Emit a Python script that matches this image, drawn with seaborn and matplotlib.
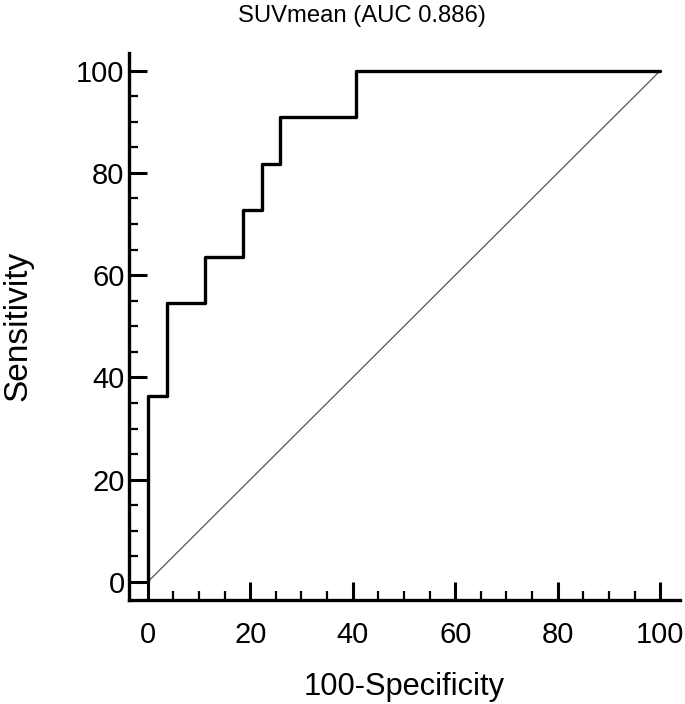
import matplotlib
matplotlib.use('Agg')
import matplotlib.pyplot as plt
import seaborn as sns
from matplotlib.ticker import AutoMinorLocator

# ROC points for SUVmean
fpr = [0, 0, 3.7, 11.1, 18.5, 22.2, 25.9, 40.7, 100]
tpr = [0, 36.4, 54.5, 63.6, 72.7, 81.8, 90.9, 100, 100]
diag = [0, 100]
title = 'SUVmean (AUC 0.886)'

sns.set_style('ticks')
plt.rcParams['font.family'] = ['Liberation Sans', 'DejaVu Sans']
plt.rcParams['text.color'] = 'black'
plt.rcParams['axes.labelcolor'] = 'black'
plt.rcParams['xtick.color'] = 'black'
plt.rcParams['ytick.color'] = 'black'

fig = plt.figure(figsize=(6.85, 7.04), dpi=100)
ax = fig.add_axes([0.188, 0.148, 0.805, 0.777])

sns.lineplot(x=diag, y=diag, ax=ax, color='#555555', linewidth=0.9)
sns.lineplot(x=fpr, y=tpr, ax=ax, color='black', linewidth=2.4,
             drawstyle='steps-post', estimator=None, sort=False)

ax.set_xlim(-3.7, 103.9)
ax.set_ylim(-3.5, 103.5)
ax.set_xticks([0, 20, 40, 60, 80, 100])
ax.set_yticks([0, 20, 40, 60, 80, 100])
ax.xaxis.set_minor_locator(AutoMinorLocator(4))
ax.yaxis.set_minor_locator(AutoMinorLocator(4))
ax.tick_params(which='major', direction='in', length=13, width=2.2,
               labelsize=21, labelcolor='black')
ax.tick_params(axis='x', which='major', pad=15)
ax.tick_params(axis='y', which='major', pad=3)
ax.tick_params(which='minor', direction='in', length=6.5, width=1.6)

sns.despine(ax=ax)
for s in ['left', 'bottom']:
    ax.spines[s].set_linewidth(2.4)
    ax.spines[s].set_color('black')

ax.set_xlabel('100-Specificity', fontsize=22.2, labelpad=17)
ax.set_ylabel('Sensitivity', fontsize=24, labelpad=31)
ax.set_title(title, fontsize=17.2, pad=22, x=0.423)

fig.savefig('out.png', dpi=100)
